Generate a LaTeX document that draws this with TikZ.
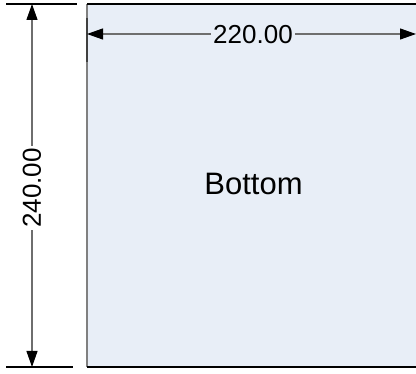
\documentclass[tikz,border=0pt]{standalone}
\usepackage{fontspec}
\setmainfont{Liberation Sans}
\usetikzlibrary{arrows.meta}
\definecolor{shapefill}{RGB}{232,238,247}
\definecolor{dimgray}{RGB}{110,110,110}
\definecolor{edgegray}{RGB}{128,128,128}
\tikzset{
  dimtip/.tip={Triangle[length=16pt,width=11pt,color=black]},
  dimline/.style={draw=dimgray, line width=1.1pt, dimtip-dimtip},
  extline/.style={draw=black, line width=1.2pt},
  dimlabel/.style={font=\fontsize{26}{30}\selectfont, inner sep=2pt},
}
\begin{document}
\begin{tikzpicture}[x=1pt,y=-1pt]
\useasboundingbox (0,0) rectangle (416,374);
% shape
\fill[shapefill] (87,4) rectangle (430,367);
\draw[edgegray, line width=1.6pt] (87,4) -- (87,367);
\draw[black!75, line width=1.6pt] (87,18) -- (87,62);
\draw[extline] (87,4) -- (430,4);
\draw[extline] (87,367) -- (430,367);
\node[font=\fontsize{31}{36}\selectfont, inner sep=0pt] (bottom) at (253.5,184.4) {Bottom};
% vertical dimension extension lines
\coordinate (t1) at (6,4);
\coordinate (t2) at (77,4);
\coordinate (b1) at (6,367);
\coordinate (b2) at (73,367);
\draw[extline] (t1) -- (t2);
\draw[extline] (b1) -- (b2);
% vertical dimension
\coordinate (vtop) at (32,4);
\coordinate (vbot) at (32,367);
\draw[dimline] (vtop) -- (vbot);
\node[dimlabel, fill=white, rotate=90] (vlab) at (32,188) {240.00};
% horizontal dimension
\coordinate (hl) at (87,34);
\coordinate (hr) at (416,34);
\draw[dimline] (hl) -- (hr);
\node[dimlabel, fill=shapefill] (hlab) at (253,34.2) {220.00};
\end{tikzpicture}
\end{document}
